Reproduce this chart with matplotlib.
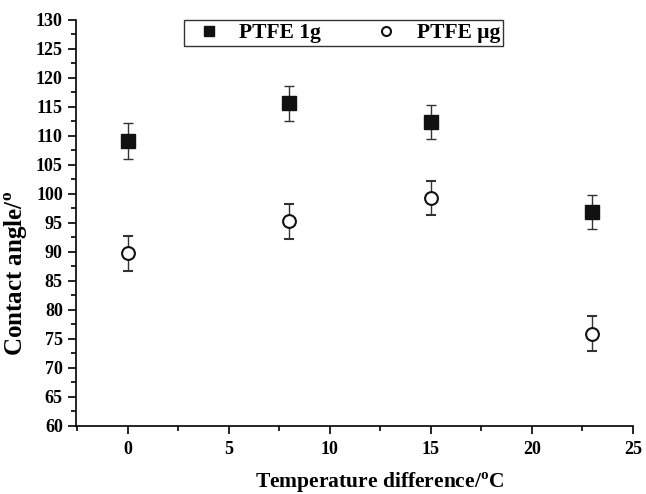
import matplotlib
matplotlib.use("Agg")
import matplotlib.pyplot as plt
from matplotlib.ticker import MultipleLocator
from matplotlib.lines import Line2D

# Data
temp_diff = [0, 8, 15, 23]
ptfe_1g = [109.1, 115.6, 112.4, 96.9]
ptfe_1g_err = [3.1, 3.0, 3.0, 3.0]
ptfe_ug = [89.8, 95.3, 99.3, 75.9]
ptfe_ug_err = [3.0, 3.0, 3.0, 3.0]
series_names = ['PTFE 1g', 'PTFE \u03bcg']

plt.rcParams['font.family'] = ['Liberation Serif', 'DejaVu Serif']
plt.rcParams['font.weight'] = 'bold'
plt.rcParams['mathtext.fontset'] = 'custom'
plt.rcParams['mathtext.rm'] = 'Liberation Serif'

fig = plt.figure(figsize=(6.46, 4.94), dpi=100)
ax = fig.add_axes([0.1176, 0.1377, 0.862, 0.822])

ax.errorbar(temp_diff, ptfe_1g, yerr=ptfe_1g_err, fmt='s', color='#111111',
            ms=9.8, ecolor='#333333', elinewidth=1, capsize=3.6, capthick=1,
            zorder=3)
ax.errorbar(temp_diff, ptfe_ug, yerr=ptfe_ug_err, fmt='o', mfc='white',
            mec='#111111', mew=1.5, ms=9.2, ecolor='#333333', elinewidth=1,
            capsize=3.6, capthick=1, zorder=3)

ax.set_xlim(-2.55, 25)
ax.set_ylim(60, 130)
ax.xaxis.set_major_locator(MultipleLocator(5))
ax.xaxis.set_minor_locator(MultipleLocator(2.5))
ax.yaxis.set_major_locator(MultipleLocator(5))
ax.yaxis.set_minor_locator(MultipleLocator(2.5))

for s in ['top', 'right']:
    ax.spines[s].set_visible(False)
for s in ['left', 'bottom']:
    ax.spines[s].set_linewidth(1.2)

ax.tick_params(which='major', direction='out', length=6, width=1.2,
               labelsize=13)
ax.tick_params(axis='x', which='major', pad=5)
ax.tick_params(axis='y', which='major', pad=3.5)
ax.tick_params(which='minor', direction='out', length=3.5, width=1.2)
for lab in ax.get_xticklabels() + ax.get_yticklabels():
    lab.set_fontweight('bold')

ax.set_xlabel('Temperature difference/$^{\\rm o}$C', fontsize=15.5,
              fontweight='bold')
ax.xaxis.set_label_coords(0.546, -0.11)
ax.set_ylabel('Contact angle/$^{\\rm o}$', fontsize=18, fontweight='bold')
ax.yaxis.set_label_coords(-0.083, 0.375)

# legend without the error bars, as in the reference
handles = [
    Line2D([], [], marker='s', ls='none', color='#111111', ms=7.2),
    Line2D([], [], marker='o', ls='none', mfc='white', mec='#111111',
           mew=1.5, ms=6.5),
]
leg = ax.legend(handles, series_names, loc='upper left',
                bbox_to_anchor=((184 - 76) / 557, 1.0), ncol=2,
                frameon=True, fancybox=False, edgecolor='black',
                prop={'weight': 'bold', 'size': 15.5}, columnspacing=2.05,
                handletextpad=0.4, borderpad=0.15, handlelength=2.0,
                borderaxespad=0)
leg.get_frame().set_linewidth(1.0)

fig.savefig('out.png', dpi=100)
